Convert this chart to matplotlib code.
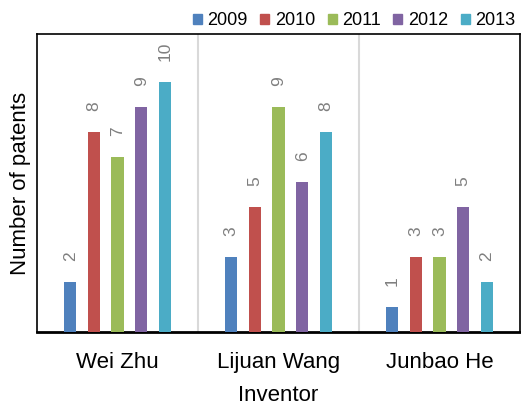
import matplotlib
matplotlib.use("Agg")
import matplotlib.pyplot as plt
import numpy as np
from matplotlib.patches import Patch

inventors = ["Wei Zhu", "Lijuan Wang", "Junbao He"]
years = ["2009", "2010", "2011", "2012", "2013"]
v2009 = [2, 3, 1]
v2010 = [8, 5, 3]
v2011 = [7, 9, 3]
v2012 = [9, 6, 5]
v2013 = [10, 8, 2]
series = [v2009, v2010, v2011, v2012, v2013]
colors = ["#4F81BD", "#C0504D", "#9BBB59", "#8064A2", "#4BACC6"]

plt.rcParams['font.family'] = ['Liberation Sans', 'DejaVu Sans']

fig = plt.figure(figsize=(5.21, 4.05), dpi=100)
ax = fig.add_axes([0.071, 0.180, 0.927, 0.736])

x = np.arange(len(inventors)) + 0.5
bw = 0.075
step = 0.147
for i, (vals, c) in enumerate(zip(series, colors)):
    pos = x + (i - 2) * step
    ax.bar(pos, vals, width=bw, color=c, zorder=3)
    for p, v in zip(pos, vals):
        ax.annotate(str(v), (p, v), xytext=(0, 15.5), textcoords="offset points",
                    rotation=90, ha="center", va="bottom", fontsize=12.5, color="#7F7F7F")

ax.set_xlim(0, 3)
ax.set_ylim(0, 11.92)
for s in [1, 2]:
    ax.axvline(s, color="#D9D9D9", lw=1.5, zorder=1)
ax.set_yticks([])
ax.set_xticks(x)
ax.set_xticklabels(inventors, fontsize=16)
ax.tick_params(axis="x", length=0, pad=14)
for sp in ax.spines.values():
    sp.set_color("black")
    sp.set_linewidth(1.2)
ax.spines["bottom"].set_linewidth(2)
ax.set_xlabel("Inventor", fontsize=16, labelpad=9)
ax.set_ylabel("Number of patents", fontsize=16, labelpad=4)

handles = [Patch(color=c, label=y) for c, y in zip(colors, years)]
fig.legend(handles=handles, loc="upper right", bbox_to_anchor=(1.02, 1.01), ncol=5,
           frameon=False, fontsize=13, handlelength=0.5, handleheight=0.5,
           handletextpad=0.3, columnspacing=0.7)

fig.savefig("out.png", dpi=100)
